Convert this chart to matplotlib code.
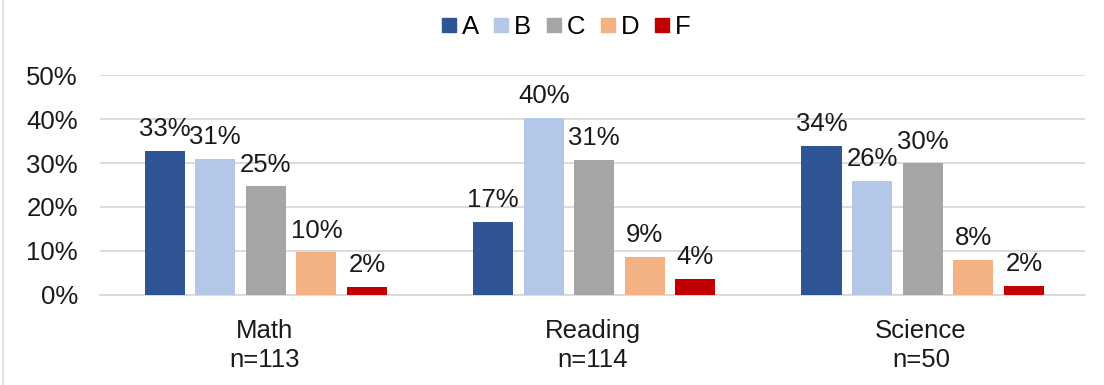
import matplotlib
matplotlib.use("Agg")
import matplotlib.pyplot as plt
import numpy as np
from matplotlib.lines import Line2D

plt.rcParams['font.family'] = ['Liberation Sans', 'DejaVu Sans']

subjects = ["Math\nn=113", "Reading\nn=114", "Science\nn=50"]
grades = ["A", "B", "C", "D", "F"]
colors = ["#2F5597", "#B4C7E7", "#A5A5A5", "#F4B183", "#C00000"]

grade_a = [32.7, 16.6, 33.9]
grade_b = [30.9, 40.3, 26.0]
grade_c = [24.7, 30.7, 29.9]
grade_d = [9.7, 8.7, 8.0]
grade_f = [1.75, 3.6, 2.0]
series = [grade_a, grade_b, grade_c, grade_d, grade_f]

yticks = [0, 10, 20, 30, 40, 50]

FS = 18.5
TXT = "#1a1a1a"

fig = plt.figure(figsize=(11.04, 3.85), dpi=100)
ax = fig.add_axes([0.0906, 0.234, 0.8924, 0.571])

x = np.arange(len(subjects))
step = 0.154
width = 0.122
for i, (vals, col, g) in enumerate(zip(series, colors, grades)):
    pos = x + (i - 2) * step + 0.005
    bars = ax.bar(pos, vals, width=width, color=col, label=g, zorder=3)
    for b, v in zip(bars, vals):
        ax.annotate(f"{v:.0f}%", (b.get_x() + b.get_width() / 2, v),
                    xytext=(0, 7), textcoords="offset points",
                    ha="center", va="bottom", fontsize=FS, color=TXT, zorder=4)

ax.set_xlim(-0.5, 2.5)
ax.set_ylim(0, 50)
ax.set_yticks(yticks)
ax.set_yticklabels([f"{t}%" for t in yticks])
ax.set_xticks(x)
ax.set_xticklabels(subjects, linespacing=1.3)
ax.tick_params(axis="y", length=0, pad=16, labelsize=FS, labelcolor=TXT)
ax.tick_params(axis="x", length=0, pad=17, labelsize=FS, labelcolor=TXT)
ax.grid(axis="y", color="#D9D9D9", linewidth=1.3, zorder=0)
for s in ["top", "right", "left"]:
    ax.spines[s].set_visible(False)
ax.spines["bottom"].set_color("#D9D9D9")
ax.spines["bottom"].set_linewidth(1.3)

handles = [Line2D([], [], marker="s", linestyle="none", markersize=10,
                  markerfacecolor=c, markeredgecolor=c) for c in colors]
fig.legend(handles, grades, loc="center", bbox_to_anchor=(0.513, 0.93), ncol=5,
           frameon=False, fontsize=FS, handlelength=0.5, handletextpad=0.25,
           columnspacing=0.63, borderpad=0)

fig.add_artist(Line2D([0.003, 0.003], [0, 1], color="#D9D9D9", linewidth=1.2,
                      transform=fig.transFigure))

fig.savefig("out.png", dpi=100)
